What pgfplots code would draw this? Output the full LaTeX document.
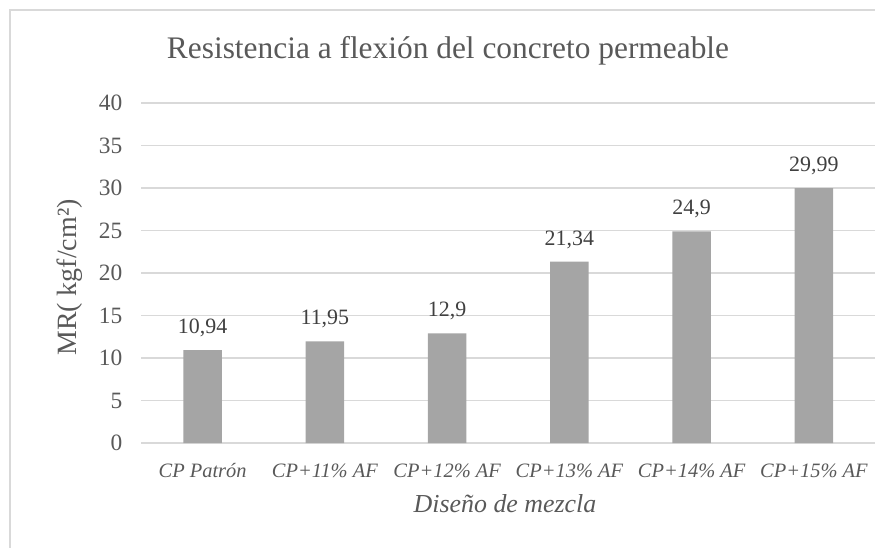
\documentclass[border=0pt]{standalone}
\usepackage{pgfplots}
\pgfplotsset{compat=1.18}
\usepackage{pgfplotstable}
\usepackage{fontspec}
\setmainfont{Liberation Serif}
\definecolor{txt}{HTML}{595959}
\definecolor{lbl}{HTML}{404040}
\definecolor{barc}{HTML}{A5A5A5}
\definecolor{gridc}{HTML}{D9D9D9}
\pgfplotstableread{
x y lab
0 10.94 10,94
1 11.95 11,95
2 12.9 12,9
3 21.34 21,34
4 24.9 24,9
5 29.99 29,99
}\datatab
\begin{document}
\begin{tikzpicture}
\path[use as bounding box] (-141.5bp,-105bp) rectangle (733.5bp,443bp);
\begin{axis}[
  at={(0,0)}, anchor=south west,
  scale only axis,
  width=733.5bp, height=340bp,
  xmin=-0.5, xmax=5.5,
  ymin=0, ymax=40,
  ytick={0,5,...,40},
  xtick=data,
  xticklabels={CP Patrón, CP+11\% AF, CP+12\% AF, CP+13\% AF, CP+14\% AF, CP+15\% AF},
  axis line style={draw=none},
  axis x line*=bottom,
  major tick length=0pt,
  ymajorgrids,
  grid style={gridc, line width=1.5bp},
  /pgf/number format/assume math mode=true,
  y tick label style={font=\fontsize{23.5}{26}\selectfont, text=txt, xshift=-15.7bp},
  x tick label style={font=\fontsize{20.5}{23}\selectfont\itshape, text=txt, anchor=base, yshift=-34bp},
  ybar, bar width=38.3bp,
  clip=false,
  nodes near coords,
  point meta=explicit symbolic,
  every node near coord/.append style={font=\fontsize{22}{25}\selectfont, text=lbl, anchor=base, yshift=16.5bp},
]
\addplot[fill=barc, draw=none] table[x=x, y=y, meta=lab] {\datatab};
\end{axis}
\draw[gridc, line width=1.2bp] (-131.5bp,-120bp) -- (-131.5bp,433bp) -- (760bp,433bp);
\node[font=\fontsize{31.5}{34}\selectfont, text=txt, anchor=base] at (306.5bp,384.7bp) {Resistencia a flexión del concreto permeable};
\node[font=\fontsize{28}{31}\selectfont, text=txt, rotate=90] at (-71.5bp,165.5bp) {MR( kgf/cm²)};
\node[font=\fontsize{26}{29}\selectfont\itshape, text=txt, anchor=base] at (363.5bp,-69bp) {Diseño de mezcla};
\end{tikzpicture}
\end{document}
